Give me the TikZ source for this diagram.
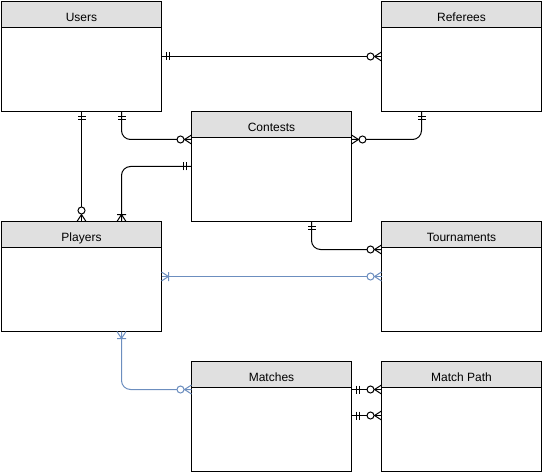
\documentclass[tikz,border=0pt]{standalone}
\usepackage{fontspec}
\setmainfont{Liberation Sans}
\usetikzlibrary{arrows.meta, positioning}

\definecolor{headgray}{HTML}{E0E0E0}
\definecolor{linkblue}{HTML}{6C8EBF}

% crow's foot ends
\pgfdeclarearrow{
  name = mone,
  setup code = {
    \pgfarrowssettipend{0pt}
    \pgfarrowssetlineend{0pt}
    \pgfarrowssetbackend{-9pt}
  },
  drawing code = {
    \pgfsetlinewidth{1pt}
    \pgfpathmoveto{\pgfqpoint{-5pt}{-4pt}}
    \pgfpathlineto{\pgfqpoint{-5pt}{4pt}}
    \pgfpathmoveto{\pgfqpoint{-8pt}{-4pt}}
    \pgfpathlineto{\pgfqpoint{-8pt}{4pt}}
    \pgfusepathqstroke
  }
}
\pgfdeclarearrow{
  name = omany,
  setup code = {
    \pgfarrowssettipend{0pt}
    \pgfarrowssetlineend{0pt}
    \pgfarrowssetbackend{-8pt}
  },
  drawing code = {
    \pgfsetlinewidth{1pt}
    \pgfpathmoveto{\pgfqpoint{0pt}{4.5pt}}
    \pgfpathlineto{\pgfqpoint{-7pt}{0pt}}
    \pgfpathlineto{\pgfqpoint{0pt}{-4.5pt}}
    \pgfpathmoveto{\pgfqpoint{-7pt}{-4.5pt}}
    \pgfpathlineto{\pgfqpoint{-7pt}{4.5pt}}
    \pgfusepathqstroke
  }
}
\pgfdeclarearrow{
  name = zmany,
  setup code = {
    \pgfarrowssettipend{0pt}
    \pgfarrowssetlineend{0pt}
    \pgfarrowssetbackend{-15pt}
  },
  drawing code = {
    \pgfsetlinewidth{1pt}
    \pgfpathmoveto{\pgfqpoint{0pt}{4.5pt}}
    \pgfpathlineto{\pgfqpoint{-7pt}{0pt}}
    \pgfpathlineto{\pgfqpoint{0pt}{-4.5pt}}
    \pgfusepathqstroke
    \pgfsetfillcolor{white}
    \pgfpathcircle{\pgfqpoint{-11pt}{0pt}}{3.5pt}
    \pgfusepathqfillstroke
  }
}

\begin{document}
\begin{tikzpicture}[x=1pt, y=-1pt,
    entity/.style={draw, line width=1pt, minimum width=160pt, minimum height=110pt,
      inner sep=0pt, outer sep=0pt},
    header/.style={draw, line width=1pt, fill=headgray, minimum width=160pt,
      minimum height=26pt, inner sep=0pt, outer sep=0pt, anchor=north,
      text height=13.5pt, text depth=0pt, font=\fontsize{12}{14}\selectfont},
    er/.style={line width=1pt, rounded corners=9pt},
    erblue/.style={er, draw=linkblue},
  ]
  \useasboundingbox (0,0) rectangle (543,473);

  % tables
  \node[entity] (users) at (81.5,56.5) {};
  \node[entity, right=220pt of users] (referees) {};
  \node[entity, below right=0pt and 30pt of users] (contests) {};
  \node[entity, below=110pt of users] (players) {};
  \node[entity, below=110pt of referees] (tournaments) {};
  \node[entity, below=140pt of contests] (matches) {};
  \node[entity, right=30pt of matches] (matchpath) {};

  \node[header] (users-h) at (users.north) {Users};
  \node[header] (referees-h) at (referees.north) {Referees};
  \node[header] (contests-h) at (contests.north) {Contests};
  \node[header] (players-h) at (players.north) {Players};
  \node[header] (tournaments-h) at (tournaments.north) {Tournaments};
  \node[header] (matches-h) at (matches.north) {Matches};
  \node[header] (matchpath-h) at (matchpath.north) {Match Path};

  % relations
  \draw[er, {mone}-{zmany}] (users.east) -- (referees.west);
  \draw[er, {mone}-{zmany}] (users.south) -- (players.north);
  \draw[er, {mone}-{zmany}] ([xshift=40pt]users.south) |- ([yshift=-28pt]contests.north west);
  \draw[er, {mone}-{omany}] (contests.west) -| ([xshift=40pt]players.north);
  \draw[er, {mone}-{zmany}] ([xshift=-40pt]referees.south) |- ([yshift=-28pt]contests.north east);
  \draw[er, {mone}-{zmany}] ([xshift=40pt]contests.south) |- ([yshift=-28pt]tournaments.north west);
  \draw[erblue, {omany}-{zmany}] (players.east) -- (tournaments.west);
  \draw[erblue, {omany}-{zmany}] ([xshift=40pt]players.south) |- ([yshift=-28pt]matches.north west);
  \draw[er, {mone}-{zmany}] ([yshift=-28pt]matches.north east) -- ([yshift=-28pt]matchpath.north west);
  \draw[er, {mone}-{zmany}] ([yshift=-54pt]matches.north east) -- ([yshift=-54pt]matchpath.north west);
\end{tikzpicture}
\end{document}
